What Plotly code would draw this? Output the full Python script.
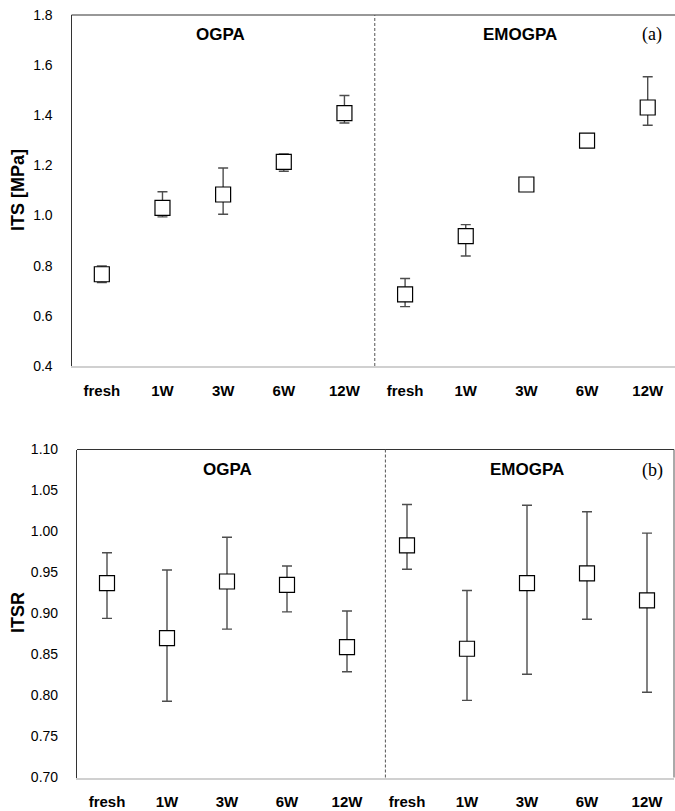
import plotly.graph_objects as go

# ---------------- data ----------------
categories = ["fresh", "1W", "3W", "6W", "12W", "fresh ", "1W ", "3W ", "6W ", "12W "]
tick_labels = ["fresh", "1W", "3W", "6W", "12W", "fresh", "1W", "3W", "6W", "12W"]

its_mean = [0.766, 1.031, 1.084, 1.214, 1.409, 0.686, 0.918, 1.124, 1.299, 1.431]
its_upper = [0.799, 1.095, 1.190, 1.246, 1.479, 0.749, 0.964, 1.149, 1.323, 1.554]
its_lower = [0.733, 0.995, 1.005, 1.177, 1.369, 0.637, 0.839, 1.100, 1.275, 1.360]

itsr_mean = [0.937, 0.870, 0.939, 0.935, 0.859, 0.983, 0.857, 0.937, 0.949, 0.916]
itsr_upper = [0.974, 0.953, 0.993, 0.958, 0.903, 1.033, 0.928, 1.032, 1.024, 0.998]
itsr_lower = [0.894, 0.793, 0.881, 0.902, 0.829, 0.954, 0.794, 0.826, 0.893, 0.804]

W, H = 675, 811
FONT = "Liberation Sans, Arial, sans-serif"
SERIF = "Liberation Serif, Times New Roman, serif"

xs = list(range(len(categories)))


def err(mean, up, lo):
    return dict(
        type="data", symmetric=False,
        array=[u - m for u, m in zip(up, mean)],
        arrayminus=[m - l for m, l in zip(mean, lo)],
        color="#4d4d4d", thickness=1.4, width=5,
    )


fig = go.Figure()
for xa, ya, mean, up, lo in [("x", "y", its_mean, its_upper, its_lower),
                             ("x2", "y2", itsr_mean, itsr_upper, itsr_lower)]:
    fig.add_trace(go.Scatter(
        x=xs, y=mean, mode="markers", xaxis=xa, yaxis=ya,
        error_y=err(mean, up, lo),
        marker=dict(symbol="square", size=15, color="white",
                    line=dict(color="black", width=1.2)),
        showlegend=False, hoverinfo="skip"))

# ---------- layout geometry ----------
top_x0, top_x1 = 71.5 / W, 1.0
top_y0, top_y1 = (H - 366) / H, (H - 15) / H
bot_x0, bot_x1 = 77 / W, 674 / W
bot_y0, bot_y1 = (H - 777.5) / H, (H - 449.5) / H

tickfont = dict(family=FONT, size=14, color="black")
xtickfont = dict(family=FONT, size=15, color="black", weight="bold")

common_x = dict(tickmode="array", tickvals=xs, ticktext=tick_labels,
                tickfont=xtickfont, showgrid=False, zeroline=False,
                showline=True, linecolor="#d0d0d0", linewidth=2,
                ticks="", automargin=False, range=[-0.5, 9.45])
common_y = dict(tickmode="array", tickfont=tickfont, showgrid=False, zeroline=False,
                showline=True, linecolor="#333333", linewidth=1.2,
                ticks="", ticklabelstandoff=15, automargin=False)

fig.update_layout(
    width=W, height=H,
    margin=dict(l=0, r=0, t=0, b=0, autoexpand=False),
    paper_bgcolor="white", plot_bgcolor="white",
    showlegend=False,
    xaxis=dict(domain=[top_x0, top_x1], anchor="y", ticklabelstandoff=10, **common_x),
    yaxis=dict(domain=[top_y0, top_y1], range=[0.4, 1.8],
               tickvals=[0.4, 0.6, 0.8, 1.0, 1.2, 1.4, 1.6, 1.8],
               ticktext=["0.4", "0.6", "0.8", "1.0", "1.2", "1.4", "1.6", "1.8"],
               anchor="x", **common_y),
    xaxis2=dict(domain=[bot_x0, bot_x1], anchor="y2", ticklabelstandoff=9, **common_x),
    yaxis2=dict(domain=[bot_y0, bot_y1], range=[0.70, 1.10],
                tickvals=[0.70, 0.75, 0.80, 0.85, 0.90, 0.95, 1.00, 1.05, 1.10],
                ticktext=["0.70", "0.75", "0.80", "0.85", "0.90", "0.95", "1.00", "1.05", "1.10"],
                anchor="x2", **common_y),
)

shapes = [
    dict(type="line", xref="x domain", yref="y domain", x0=0, x1=1, y0=1, y1=1,
         line=dict(color="#333333", width=1.2)),
    dict(type="line", xref="x", yref="y domain", x0=4.5, x1=4.5, y0=0, y1=1,
         line=dict(color="#555555", width=1, dash="3px,2px")),
    dict(type="line", xref="x2 domain", yref="y2 domain", x0=0, x1=1, y0=1, y1=1,
         line=dict(color="#333333", width=1.2)),
    dict(type="line", xref="x2 domain", yref="y2 domain", x0=1, x1=1, y0=0, y1=1,
         line=dict(color="#555555", width=1)),
    dict(type="line", xref="x2", yref="y2 domain", x0=4.64, x1=4.64, y0=0, y1=1,
         line=dict(color="#555555", width=1, dash="3px,2px")),
]
fig.update_layout(shapes=shapes)

lab = dict(family=FONT, size=17, color="black", weight="bold")
ytitle = dict(family=FONT, size=18, color="black", weight="bold")
serif = dict(family=SERIF, size=18, color="black")
C = dict(showarrow=False, xanchor="center", yanchor="middle")
anns = [
    dict(text="OGPA", xref="x", yref="paper", x=1.95, y=(H - 35) / H, font=lab, **C),
    dict(text="EMOGPA", xref="x", yref="paper", x=6.9, y=(H - 35) / H, font=lab, **C),
    dict(text="(a)", xref="paper", yref="paper", x=652 / W, y=(H - 34) / H, font=serif, **C),
    dict(text="OGPA", xref="x2", yref="paper", x=2.0, y=(H - 469) / H, font=lab, **C),
    dict(text="EMOGPA", xref="x2", yref="paper", x=7.0, y=(H - 469) / H, font=lab, **C),
    dict(text="(b)", xref="paper", yref="paper", x=652 / W, y=(H - 471) / H, font=serif, **C),
    dict(text="ITS [MPa]", xref="paper", yref="paper", x=18 / W, y=(H - 190) / H,
         textangle=-90, font=ytitle, **C),
    dict(text="ITSR", xref="paper", yref="paper", x=18 / W, y=(H - 613) / H,
         textangle=-90, font=ytitle, **C),
]
fig.update_layout(annotations=anns)

fig.write_html(
    "out.html",
    config={"displayModeBar": False},
    post_script="document.body.style.margin='0';document.body.style.overflow='hidden';",
)
